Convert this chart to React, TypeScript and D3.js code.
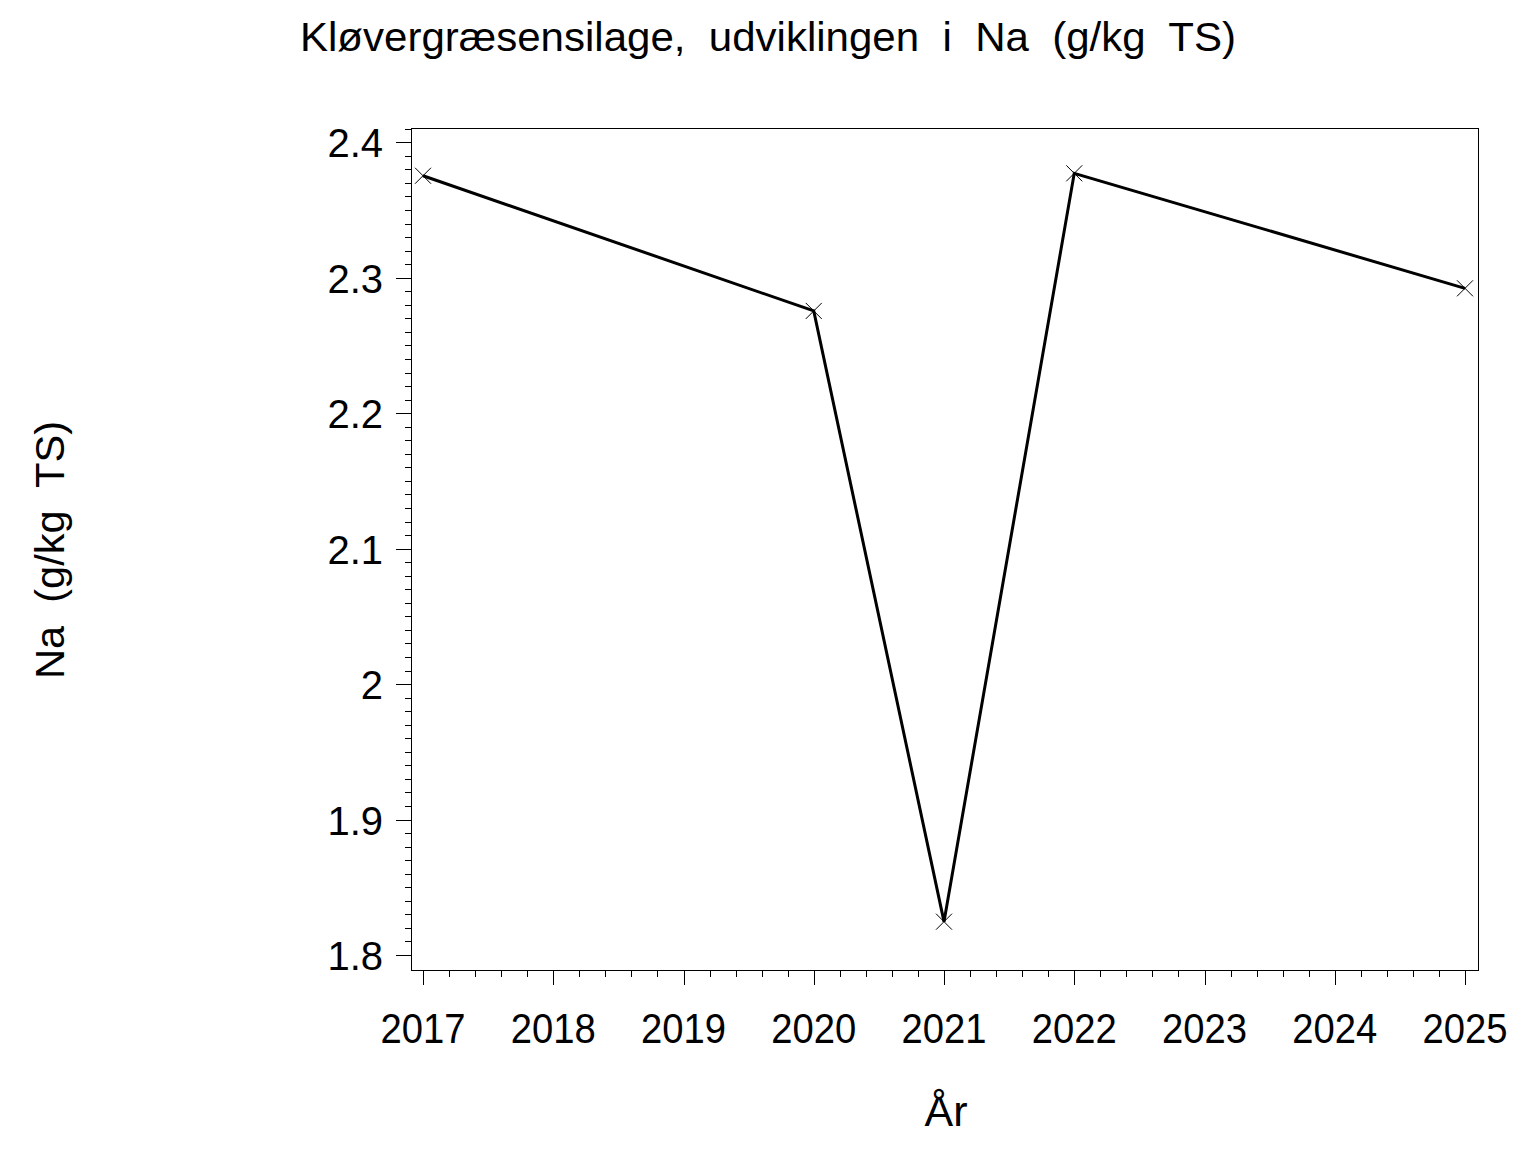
import React from "react";
import * as d3 from "d3";

const years = [2017, 2020, 2021, 2022, 2025];
const naValues = [2.3753, 2.2755, 1.8246, 2.3771, 2.2922];
const xTickYears = [2017, 2018, 2019, 2020, 2021, 2022, 2023, 2024, 2025];
const yTickValues = [1.8, 1.9, 2.0, 2.1, 2.2, 2.3, 2.4];
const titleText = "Kløvergræsensilage,  udviklingen  i  Na  (g/kg  TS)";
const yLabelText = "Na  (g/kg  TS)";
const xLabelText = "År";

const W = 1536;
const H = 1152;
const frame = { left: 411, right: 1478, top: 128, bottom: 970 };
const FONT = "'Liberation Sans', Arial, sans-serif";

export default function App() {
  const x = d3.scaleLinear().domain([2017, 2025]).range([423, 1465]);
  const y = d3.scaleLinear().domain([1.8, 2.4]).range([955, 142.3]);

  const line = d3
    .line<number>()
    .x((_, i) => x(years[i]))
    .y((d) => y(d));

  const minorY: number[] = [];
  for (let i = 0; i <= 60; i++) {
    const v = 1.8 + i * 0.01;
    if (i % 10 !== 0 && y(v) >= frame.top) minorY.push(v);
  }
  // extra minor ticks above 2.4 within frame
  const minorYAbove = [2.41].filter((v) => y(v) >= frame.top);

  const minorX: number[] = [];
  for (let yr = 2017; yr < 2025; yr++) {
    for (let k = 1; k < 5; k++) minorX.push(yr + k * 0.2);
  }

  return (
    <svg
      width={W}
      height={H}
      style={{ position: "absolute", left: 0, top: 0, background: "#fff" }}
    >
      <rect x={0} y={0} width={W} height={H} fill="#fff" />
      <text
        x={300}
        y={51}
        fontFamily={FONT}
        fontSize={40}
        textLength={936}
        lengthAdjust="spacingAndGlyphs"
        style={{ whiteSpace: "pre" }}
        fill="#000"
      >
        {titleText}
      </text>

      <rect
        x={frame.left}
        y={frame.top}
        width={frame.right - frame.left}
        height={frame.bottom - frame.top}
        fill="none"
        stroke="#000"
        strokeWidth={1}
        shapeRendering="crispEdges"
      />

      {/* Y axis ticks */}
      {yTickValues.map((v) => (
        <g key={`yt${v}`}>
          <line
            x1={frame.left - 15}
            x2={frame.left}
            y1={Math.round(y(v)) + 0.5}
            y2={Math.round(y(v)) + 0.5}
            stroke="#000"
            shapeRendering="crispEdges"
          />
          <text
            x={383}
            y={y(v) + 15}
            textAnchor="end"
            fontFamily={FONT}
            fontSize={40}
            fill="#000"
          >
            {d3.format("~g")(v)}
          </text>
        </g>
      ))}
      {minorY.concat(minorYAbove).map((v, i) => (
        <line
          key={`ym${i}`}
          x1={frame.left - 6}
          x2={frame.left}
          y1={Math.round(y(v)) + 0.5}
          y2={Math.round(y(v)) + 0.5}
          stroke="#000"
          shapeRendering="crispEdges"
        />
      ))}

      {/* X axis ticks */}
      {xTickYears.map((yr) => (
        <g key={`xt${yr}`}>
          <line
            x1={Math.round(x(yr)) + 0.5}
            x2={Math.round(x(yr)) + 0.5}
            y1={frame.bottom}
            y2={frame.bottom + 15}
            stroke="#000"
            shapeRendering="crispEdges"
          />
          <text
            x={x(yr) - 42.5}
            y={1043}
            fontFamily={FONT}
            fontSize={43}
            textLength={85}
            lengthAdjust="spacingAndGlyphs"
            fill="#000"
          >
            {String(yr)}
          </text>
        </g>
      ))}
      {minorX.map((v, i) => (
        <line
          key={`xm${i}`}
          x1={Math.round(x(v)) + 0.5}
          x2={Math.round(x(v)) + 0.5}
          y1={frame.bottom}
          y2={frame.bottom + 7}
          stroke="#000"
          shapeRendering="crispEdges"
        />
      ))}

      {/* Data line */}
      <path
        d={line(naValues) || ""}
        fill="none"
        stroke="#000"
        strokeWidth={3}
        strokeLinejoin="miter"
      />
      {naValues.map((v, i) => {
        const cx = x(years[i]);
        const cy = y(v);
        const s = 8;
        return (
          <g key={`m${i}`} stroke="#000" strokeWidth={1}>
            <line x1={cx - s} y1={cy - s} x2={cx + s} y2={cy + s} />
            <line x1={cx - s} y1={cy + s} x2={cx + s} y2={cy - s} />
          </g>
        );
      })}

      {/* Axis labels */}
      <text
        x={946}
        y={1126}
        textAnchor="middle"
        fontFamily={FONT}
        fontSize={43}
        fill="#000"
      >
        {xLabelText}
      </text>
      <text
        transform="translate(64,550) rotate(-90)"
        textAnchor="middle"
        fontFamily={FONT}
        fontSize={40}
        textLength={258}
        lengthAdjust="spacingAndGlyphs"
        style={{ whiteSpace: "pre" }}
        fill="#000"
      >
        {yLabelText}
      </text>
    </svg>
  );
}
